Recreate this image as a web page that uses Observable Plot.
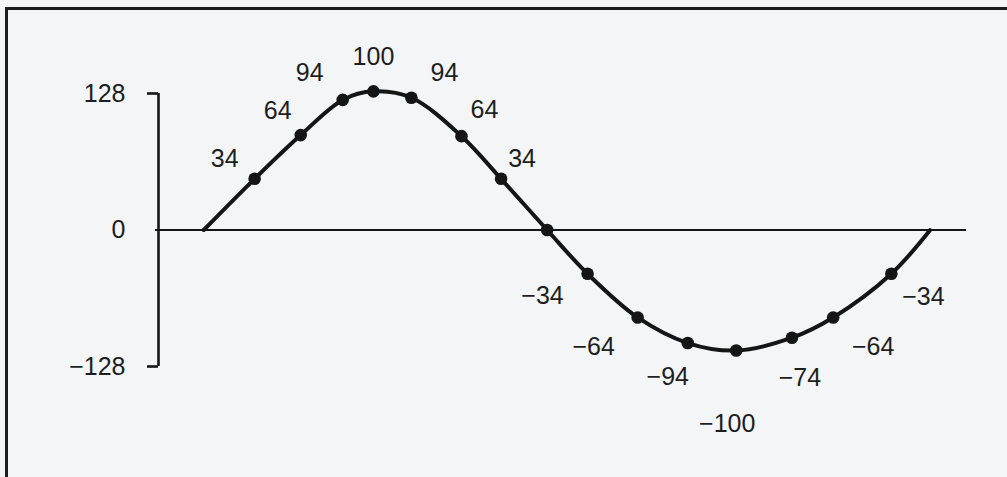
<!DOCTYPE html>
<html>
<head>
<meta charset="utf-8">
<script src="https://cdn.jsdelivr.net/npm/d3@7"></script>
<script src="https://cdn.jsdelivr.net/npm/@observablehq/plot@0.6"></script>
<style>
  html, body { margin: 0; padding: 0; background: #f3f5f6; width: 1007px; height: 477px; overflow: hidden; }
  #frame { position: absolute; left: 5px; top: 7px; width: 1010px; height: 480px;
           border-top: 3px solid #1c1c1c; border-left: 3px solid #1c1c1c; }
  #chart { position: absolute; left: 0; top: 0; }
</style>
</head>
<body>
<div id="frame"></div>
<div id="chart"></div>
<script>
// ---- data ----
// time position of each sample along the horizontal axis (arbitrary units, 0..100)
const times  = [5.6, 11.9, 17.6, 22.8, 26.6, 31.3, 37.5, 42.4, 48.1, 53.1, 59.3, 65.5, 71.5, 78.4, 83.5, 90.7, 95.5];
// drawn height of the envelope at each sample (in units of the -128..128 axis)
const levels = [0, 48, 89, 122, 130, 124, 88, 48, 0, -41, -82, -106, -113, -101, -82, -41, 0];
// value printed next to each sample ("" = no label)
const pointLabels = ["", "34", "64", "94", "100", "94", "64", "34", "", "−34", "−64", "−94", "−100", "−74", "−64", "−34", ""];
// which samples carry a dot
const hasDot = [false, true, true, true, true, true, true, true, true, true, true, true, true, true, true, true, false];
// y axis ticks
const yTicks = [128, 0, -128];
const yTickMarks = [128, -128];

// ---- layout (not data) ----
const labelOffsets = [
  null, [-30,-20], [-23,-24], [-33,-27], [0,-34], [33,-25], [23,-26], [21,-20],
  null, [-45,22], [-44,30], [-20,34], [-9,73], [8,40], [40,30], [32,23], null
];
const ink = "#151515";
const fs = 25;

const data = times.map((t, i) => ({t, v: levels[i], label: pointLabels[i], dot: hasDot[i], i}));
const fmt = d => d < 0 ? "−" + Math.abs(d) : String(d);

const labelMarks = data
  .filter(d => d.label)
  .map(d => Plot.text([d], {
    x: "t", y: "v", text: "label",
    dx: labelOffsets[d.i][0], dy: labelOffsets[d.i][1],
    fill: "#1e1e1e", fontSize: fs, textAnchor: "middle"
  }));

const chart = Plot.plot({
  width: 1007,
  height: 477,
  marginLeft: 158,
  marginRight: 41,
  marginTop: 93,
  marginBottom: 111,
  x: {domain: [0, 100], axis: null, label: null},
  y: {domain: [-128, 128], axis: null, label: null},
  style: {background: "transparent", fontFamily: "'Liberation Sans', Arial, Helvetica, sans-serif", color: ink, overflow: "visible"},
  marks: [
    Plot.ruleY([0], {stroke: ink, strokeWidth: 2, insetLeft: -3}),
    Plot.ruleX([0], {y1: yTicks[yTicks.length - 1], y2: yTicks[0], stroke: ink, strokeWidth: 2.6}),
    Plot.axisY({ticks: yTickMarks, tickSize: 11, tickFormat: () => "", label: null, stroke: ink, strokeWidth: 2.6}),
    Plot.axisY({ticks: yTicks, tickSize: 0, tickPadding: 33, tickFormat: fmt, label: null, fontSize: fs, fill: "#1e1e1e"}),
    Plot.line(data, {x: "t", y: "v", curve: "catmull-rom", stroke: ink, strokeWidth: 4}),
    Plot.dot(data.filter(d => d.dot), {x: "t", y: "v", r: 6.3, fill: ink, stroke: "none"}),
    ...labelMarks
  ]
});
document.getElementById("chart").appendChild(chart);
</script>
</body>
</html>
